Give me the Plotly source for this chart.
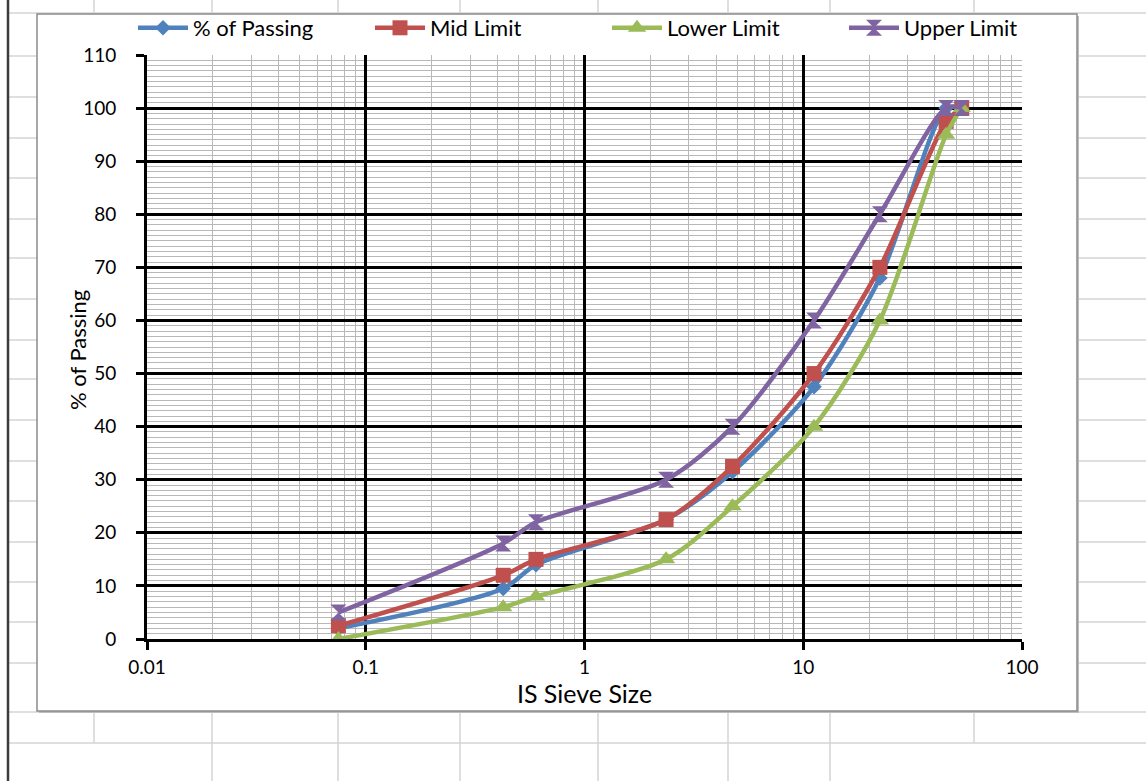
import plotly.graph_objects as go

# ---------------- data ----------------
sieve_size = [0.075, 0.425, 0.6, 2.36, 4.75, 11.2, 22.4, 45, 53]
pct_passing = [2, 9.5, 14, 22.5, 31.5, 47.5, 68, 100, 100]
mid_limit = [2.5, 12, 15, 22.5, 32.5, 50, 70, 97.5, 100]
lower_limit = [0, 6, 8, 15, 25, 40, 60, 95, 100]
upper_limit = [5, 18, 22, 30, 40, 60, 80, 100, 100]

series_names = ["% of Passing", "Mid Limit", "Lower Limit", "Upper Limit"]
series_values = [pct_passing, mid_limit, lower_limit, upper_limit]
series_colors = ["#4F81BD", "#C0504D", "#9BBB59", "#8064A2"]
series_symbols = ["diamond", "square", "triangle-up", "hourglass"]
series_msize = [12, 15, 16, 16]

x_tickvals = [0.01, 0.1, 1, 10, 100]
x_ticktext = ["0.01", "0.1", "1", "10", "100"]
y_tickvals = list(range(0, 111, 10))
y_title = "% of Passing"
x_title = "IS Sieve Size"

# ---------------- layout geometry (pixels) ----------------
W, H = 1146, 781
PL, PR, PT, PB = 147, 1022, 55, 639


def px(x):
    return (x - PL) / (PR - PL)


def py(y):
    return (PB - y) / (PB - PT)


FONT = "Lato, Carlito, 'Liberation Sans', sans-serif"

fig = go.Figure()
for name, vals, col, sym, ms in zip(series_names, series_values, series_colors,
                                    series_symbols, series_msize):
    fig.add_trace(go.Scatter(
        x=sieve_size, y=vals, name=name, mode="lines+markers",
        line=dict(color=col, width=4.5, shape="spline", smoothing=0.8),
        marker=dict(symbol=sym, size=ms, color=col, line=dict(width=0)),
    ))

# spreadsheet background (decorative grid of the screenshot)
shapes = []
sheet_col = "#d4d4d4"
row_lines = [13, 56, 97, 138, 178, 219, 258, 299, 340, 379, 420, 461, 501,
             542, 582, 622, 663, 712, 743]
for ry in row_lines:
    shapes.append(dict(type="line", xref="paper", yref="paper",
                       x0=px(8), x1=px(W + 5), y0=py(ry), y1=py(ry),
                       line=dict(color=sheet_col, width=1.5), layer="below"))
top_cols = [94, 212, 338, 460, 598, 728, 830, 974]
for cx in top_cols:
    shapes.append(dict(type="line", xref="paper", yref="paper",
                       x0=px(cx), x1=px(cx), y0=py(-5), y1=py(13),
                       line=dict(color=sheet_col, width=1.5), layer="below"))
    shapes.append(dict(type="line", xref="paper", yref="paper",
                       x0=px(cx), x1=px(cx), y0=py(712), y1=py(743),
                       line=dict(color=sheet_col, width=1.5), layer="below"))
for cx in [212, 338, 460, 598, 728, 830]:
    shapes.append(dict(type="line", xref="paper", yref="paper",
                       x0=px(cx), x1=px(cx), y0=py(743), y1=py(H + 5),
                       line=dict(color=sheet_col, width=1.5), layer="below"))
shapes.append(dict(type="line", xref="paper", yref="paper",
                   x0=px(8), x1=px(8), y0=py(-5), y1=py(H + 5),
                   line=dict(color="#3c3c3c", width=2.5), layer="below"))
# chart box shadow + box
shapes.append(dict(type="rect", xref="paper", yref="paper",
                   x0=px(39), x1=px(1079), y0=py(16), y1=py(713),
                   fillcolor="#bdbdbd", line=dict(width=0), layer="below"))
shapes.append(dict(type="rect", xref="paper", yref="paper",
                   x0=px(37), x1=px(1077), y0=py(14), y1=py(711),
                   fillcolor="white", line=dict(color="#8a8a8a", width=1.5),
                   layer="below"))

fig.update_layout(
    width=W, height=H, autosize=False,
    margin=dict(l=PL, r=W - PR, t=PT, b=H - PB, pad=0, autoexpand=False),
    paper_bgcolor="white", plot_bgcolor="white",
    font=dict(family=FONT, color="#000000", size=19),
    shapes=shapes,
    showlegend=True,
    legend=dict(orientation="h", x=px(133), xanchor="left",
                y=py(28), yanchor="middle",
                font=dict(family=FONT, size=22, color="#000"),
                bgcolor="rgba(0,0,0,0)", entrywidth=172, itemwidth=50,
                traceorder="normal"),
    annotations=[dict(text=y_title, xref="paper", yref="paper",
                      x=px(77), y=py(350), xanchor="center", yanchor="middle",
                      textangle=-90, showarrow=False,
                      font=dict(family=FONT, size=22, color="#000"))],
    xaxis=dict(
        type="log", range=[-2, 2],
        tickvals=x_tickvals, ticktext=x_ticktext,
        showgrid=True, gridcolor="#000000", gridwidth=3,
        showline=True, linecolor="#000000", linewidth=3, mirror=False,
        ticks="outside", ticklen=8, tickwidth=3, tickcolor="#000",
        ticklabelstandoff=1,
        tickfont=dict(family=FONT, size=19, color="#000"),
        minor=dict(dtick="D1", showgrid=True, gridcolor="#b8b8b8", gridwidth=1.2,
                   ticks=""),
        title=dict(text=x_title, font=dict(family=FONT, size=25, color="#000"),
                   standoff=2),
        zeroline=False, automargin=False,
    ),
    yaxis=dict(
        range=[0, 110], tickvals=y_tickvals,
        showgrid=True, gridcolor="#000000", gridwidth=3,
        showline=True, linecolor="#000000", linewidth=3,
        ticks="outside", ticklen=8, tickwidth=3, tickcolor="#000",
        ticklabelstandoff=16,
        tickfont=dict(family=FONT, size=19, color="#000"),
        minor=dict(dtick=1, showgrid=True, gridcolor="#b8b8b8", gridwidth=1.2,
                   ticks=""),
        zeroline=False, automargin=False,
    ),
)

fig.write_html("out.html", config={"displayModeBar": False},
               post_script="document.body.style.margin='0px';document.body.style.overflow='hidden';")
